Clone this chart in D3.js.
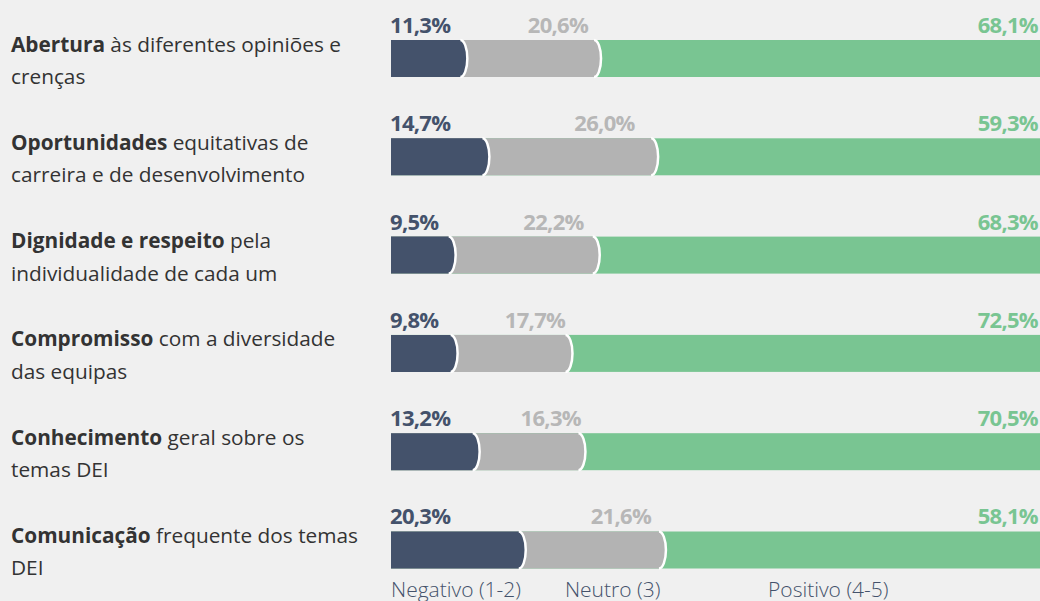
<!DOCTYPE html>
<html>
<head>
<meta charset="utf-8">
<script src="https://cdn.jsdelivr.net/npm/d3@7"></script>
<style>
html,body{margin:0;padding:0;background:#f0f0f0;}
svg{display:block;}
</style>
</head>
<body>
<svg id="chart" width="1040" height="601"></svg>
<script>
const labelBold = ["Abertura","Oportunidades","Dignidade e respeito","Compromisso","Conhecimento","Comunicação"];
const labelRest = [" às diferentes opiniões e"," equitativas de"," pela"," com a diversidade"," geral sobre os"," frequente dos temas"];
const labelLine2 = ["crenças","carreira e de desenvolvimento","individualidade de cada um","das equipas","temas DEI","DEI"];
const negative = [11.3,14.7,9.5,9.8,13.2,20.3];
const neutral  = [20.6,26.0,22.2,17.7,16.3,21.6];
const positive = [68.1,59.3,68.3,72.5,70.5,58.1];
const legendLabels = ["Negativo (1-2)","Neutro (3)","Positivo (4-5)"];

const C_NEG = "#44526b", C_NEU = "#b3b3b3", C_POS = "#79c592";
const C_NEU_TXT = "#b7b7b7";

const svg = d3.select("#chart");
const x = d3.scaleLinear().domain([0,100]).range([391,1040]);
const y = d3.scaleBand().domain(d3.range(negative.length)).range([40,568.5]).paddingInner(0.6236).paddingOuter(0);
const h = y.bandwidth();
const fmt = v => v.toFixed(1).replace(".", ",") + "%";

const rows = negative.map((n,i)=>({i, neg:n, neu:neutral[i], pos:positive[i]}));

function capPath(x0, xe, top){
  return `M${x0},${top} H${xe-4} A7,${h/2} 0 0 1 ${xe-4},${top+h} H${x0} Z`;
}
function capArc(xe, top){
  return `M${xe-4},${top} A7,${h/2} 0 0 1 ${xe-4},${top+h}`;
}

const g = svg.selectAll("g.row").data(rows).join("g").attr("class","row");

// positive (full bar)
g.append("rect")
  .attr("x", x(0)).attr("y", d=>y(d.i))
  .attr("width", d=>x(d.neg+d.neu+d.pos)-x(0)).attr("height", h)
  .attr("fill", C_POS);

// neutral
g.append("path").attr("d", d=>capPath(x(0), x(d.neg+d.neu), y(d.i))).attr("fill", C_NEU);
g.append("path").attr("d", d=>capArc(x(d.neg+d.neu), y(d.i))).attr("fill","none").attr("stroke","#fff").attr("stroke-width",2.5);

// negative
g.append("path").attr("d", d=>capPath(x(0), x(d.neg), y(d.i))).attr("fill", C_NEG);
g.append("path").attr("d", d=>capArc(x(d.neg), y(d.i))).attr("fill","none").attr("stroke","#fff").attr("stroke-width",2.5);

// value labels
const valFont = g => g.attr("font-family","'Open Sans', sans-serif").attr("font-weight",700)
  .attr("font-size",22).attr("letter-spacing","-0.7px");
g.append("text").call(valFont)
  .attr("x", x(0)-1).attr("y", d=>y(d.i)-7).attr("fill", C_NEG)
  .text(d=>fmt(d.neg));
g.append("text").call(valFont)
  .attr("x", d=>x(d.neg) + (x(d.neg+d.neu)-x(d.neg))*0.7).attr("y", d=>y(d.i)-7)
  .attr("text-anchor","middle").attr("fill", C_NEU_TXT)
  .text(d=>fmt(d.neu));
g.append("text").call(valFont)
  .attr("x", 1038).attr("y", d=>y(d.i)-7)
  .attr("text-anchor","end").attr("fill", C_POS)
  .text(d=>fmt(d.pos));

// category labels
const lab = g.append("text")
  .attr("font-family","'Open Sans', sans-serif").attr("font-size",20.8).attr("fill","#333");
const l1 = lab.append("tspan").attr("x",11).attr("y", d=>y(d.i)+11.5);
l1.append("tspan").attr("font-weight",700).text(d=>labelBold[d.i]);
l1.append("tspan").text(d=>labelRest[d.i]);
lab.append("tspan").attr("x",11).attr("y", d=>y(d.i)+44).text(d=>labelLine2[d.i]);

// legend
const legendPos = [0, 26.8, 58.1];
svg.selectAll("text.legend").data(legendLabels).join("text")
  .attr("class","legend")
  .attr("x",(d,i)=>x(legendPos[i])).attr("y",597)
  .attr("font-family","'Open Sans', sans-serif").attr("font-size",21).attr("font-weight",300)
  .attr("fill", C_NEG)
  .text(d=>d);
</script>
</body>
</html>
